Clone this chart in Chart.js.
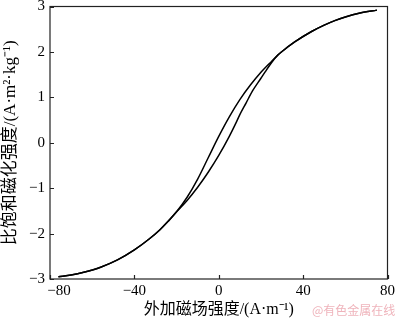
<!DOCTYPE html>
<html>
<head>
<meta charset="utf-8">
<script src="https://cdn.jsdelivr.net/npm/chart.js@4.4.0/dist/chart.umd.min.js"></script>
<style>
  html, body { margin: 0; padding: 0; background: #fff; }
  #wrap { width: 400px; height: 323px; }
</style>
</head>
<body>
<div id="wrap"><canvas id="myChart" width="400" height="323"></canvas></div>
<script>
// descending branch (coming back from +H), field H in A/m, magnetization in A·m²/kg
const descH = [-76, -70, -64, -56, -48, -40, -33, -28, -24, -20, -15, -10, -5, 0, 5, 10, 15, 20, 22, 25, 28, 30, 36, 44, 50, 55, 60, 67, 75]
const descM = [-2.95, -2.91, -2.85, -2.74, -2.58, -2.36, -2.12, -1.92, -1.73, -1.52, -1.20, -0.80, -0.33, 0.14, 0.57, 0.95, 1.27, 1.55, 1.65, 1.79, 1.93, 2.01, 2.22, 2.45, 2.59, 2.69, 2.77, 2.855, 2.92]
// ascending branch
const ascH = [-76, -70, -64, -56, -48, -40, -33, -28, -24, -20, -15, -10, -5, 0, 5, 8, 10, 13, 16, 20, 22, 25, 28, 30, 36, 44, 50, 55, 60, 67, 75]
const ascM = [-2.95, -2.91, -2.85, -2.74, -2.58, -2.36, -2.12, -1.92, -1.73, -1.52, -1.27, -0.98, -0.65, -0.28, 0.14, 0.42, 0.62, 0.88, 1.14, 1.42, 1.56, 1.76, 1.93, 2.01, 2.22, 2.45, 2.59, 2.69, 2.77, 2.855, 2.92]

const xTicks = [-80, -40, 0, 40, 80]
const yTicks = [-3, -2, -1, 0, 1, 2, 3]

const serif = '"Liberation Serif", "Noto Sans CJK SC", serif'

// frame, inward ticks and watermark
const framePlugin = {
    id: 'frame',
    afterDraw(chart) {
        const ctx = chart.ctx
        const a = chart.chartArea
        const x = chart.scales.x
        const y = chart.scales.y
        ctx.save()
        ctx.strokeStyle = '#222'
        ctx.lineWidth = 1.2
        ctx.strokeRect(a.left, a.top, a.right - a.left, a.bottom - a.top)
        ctx.beginPath()
        xTicks.forEach(v => {
            let px = Math.round(x.getPixelForValue(v)) + 0.5
            ctx.moveTo(px, a.bottom)
            ctx.lineTo(px, a.bottom - 4)
        })
        yTicks.forEach(v => {
            let py = Math.round(y.getPixelForValue(v)) + 0.5
            ctx.moveTo(a.left, py)
            ctx.lineTo(a.left + 4, py)
        })
        ctx.stroke()
        ctx.fillStyle = 'rgba(235, 160, 170, 0.8)'
        ctx.font = '12px "Noto Sans CJK SC"'
        ctx.textAlign = 'left'
        ctx.textBaseline = 'middle'
        ctx.fillText('@有色金属在线', 312, 310)
        ctx.restore()
    }
}

new Chart('myChart', {
    type: 'scatter',
    data: {
        datasets: [
            {
                data: descH.map((h, i) => ({x: h, y: descM[i]})),
                showLine: true,
                borderColor: '#000',
                borderWidth: 1.5,
                pointRadius: 0,
                cubicInterpolationMode: 'monotone'
            },
            {
                data: ascH.map((h, i) => ({x: h, y: ascM[i]})),
                showLine: true,
                borderColor: '#000',
                borderWidth: 1.5,
                pointRadius: 0,
                cubicInterpolationMode: 'monotone'
            }
        ]
    },
    options: {
        responsive: false,
        animation: false,
        layout: { padding: { top: 0, right: 10, left: 0, bottom: 0 } },
        plugins: { legend: { display: false }, tooltip: { enabled: false } },
        scales: {
            x: {
                type: 'linear',
                min: -80, max: 80,
                grid: { display: false, drawTicks: false },
                border: { display: false },
                afterBuildTicks: scale => { scale.ticks = xTicks.map(v => ({value: v})) },
                afterFit: scale => { scale.height = 44 },
                ticks: {
                    color: '#000',
                    padding: 5,
                    maxRotation: 0,
                    autoSkip: false,
                    font: { family: serif, size: 15, lineHeight: 1 },
                    // the -80 label sits a little right of its tick in the original
                    callback: v => v === -80 ? '\u2003\u2009−80' : String(v).replace('-', '−')
                },
                title: {
                    display: true,
                    text: '外加磁场强度/(A·m⁻¹)',
                    color: '#000',
                    font: { family: serif, size: 16, lineHeight: 1 },
                    padding: { top: 0, bottom: 5 }
                }
            },
            y: {
                type: 'linear',
                min: -3, max: 3,
                grid: { display: false, drawTicks: false },
                border: { display: false },
                afterBuildTicks: scale => { scale.ticks = yTicks.map(v => ({value: v})) },
                afterFit: scale => { scale.width = 50 },
                ticks: {
                    color: '#000',
                    padding: 5,
                    autoSkip: false,
                    font: { family: serif, size: 15, lineHeight: 0.2 },
                    callback: v => String(v).replace('-', '−')
                },
                title: {
                    display: true,
                    text: '比饱和磁化强度/(A·m²·kg⁻¹)',
                    color: '#000',
                    font: { family: serif, size: 17, lineHeight: 1 },
                    padding: { top: 2, bottom: 0 }
                }
            }
        }
    },
    plugins: [framePlugin]
})
</script>
</body>
</html>
